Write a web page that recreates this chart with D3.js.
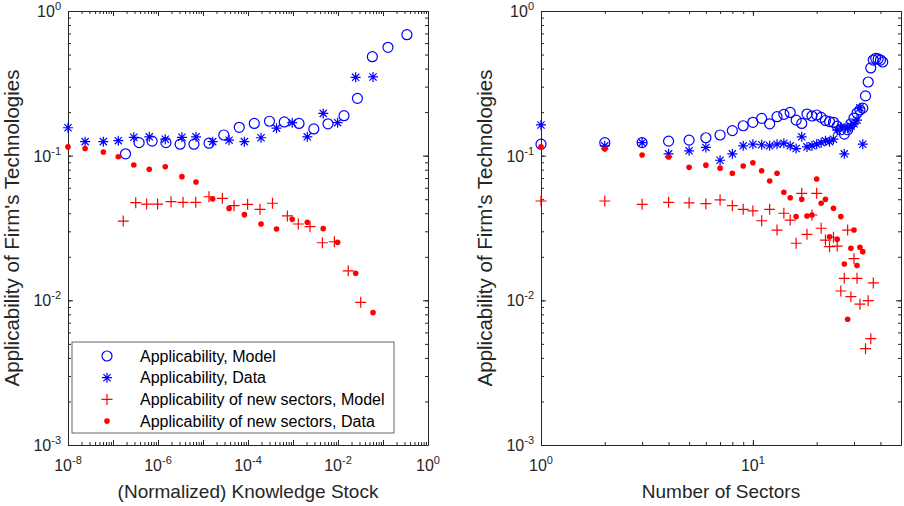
<!DOCTYPE html>
<html>
<head>
<meta charset="utf-8">
<script src="https://cdn.jsdelivr.net/npm/d3@7.9.0/dist/d3.min.js"></script>
<style>
  body { margin: 0; background: #fff; }
  svg { font-family: "Liberation Sans", Arial, sans-serif; }
</style>
</head>
<body>
<svg id="chart" width="904" height="506"></svg>
<script>
// ---- left panel: applicability vs (normalized) knowledge stock ----
const stockApplModelX = [1.9e-7, 3.8e-7, 7.4e-7, 1.5e-6, 3.1e-6, 6.3e-6, 1.36e-5, 2.9e-5, 6.4e-5, 1.38e-4,
  3.0e-4, 6.4e-4, 1.36e-3, 2.9e-3, 6.0e-3, 1.36e-2, 2.7e-2, 5.8e-2, 0.129, 0.34];
const stockApplModelY = [0.103, 0.123, 0.126, 0.123, 0.120, 0.120, 0.122, 0.139, 0.157, 0.167,
  0.173, 0.171, 0.167, 0.153, 0.166, 0.189, 0.249, 0.483, 0.561, 0.686];

const stockDataX = [1.0e-8, 2.4e-8, 6.1e-8, 1.31e-7, 2.9e-7, 6.4e-7, 1.45e-6, 3.4e-6, 7.0e-6, 1.64e-5,
  3.8e-5, 8.3e-5, 1.95e-4, 4.3e-4, 9.6e-4, 2.08e-3, 4.7e-3, 9.8e-3, 2.47e-2, 6.0e-2];
const stockApplDataY = [0.156, 0.125, 0.125, 0.127, 0.134, 0.135, 0.130, 0.134, 0.135, 0.125,
  0.128, 0.125, 0.133, 0.155, 0.169, 0.135, 0.196, 0.169, 0.348, 0.350];
const stockNewDataY = [0.115, 0.112, 0.106, 0.0984, 0.0862, 0.0805, 0.0839, 0.0716, 0.0658, 0.0502,
  0.0432, 0.0391, 0.0337, 0.0311, 0.0363, 0.0346, 0.0313, 0.0252, 0.0154, 0.00822];

const stockNewModelX = [1.69e-7, 3.2e-7, 5.6e-7, 9.8e-7, 1.95e-6, 3.6e-6, 6.9e-6, 1.36e-5, 2.69e-5, 4.9e-5,
  9.8e-5, 1.85e-4, 3.5e-4, 7.5e-4, 1.31e-3, 2.39e-3, 4.5e-3, 8.3e-3, 1.69e-2, 3.2e-2];
const stockNewModelY = [0.0353, 0.0473, 0.0463, 0.0463, 0.0481, 0.0476, 0.0476, 0.0520, 0.0507, 0.0451,
  0.0461, 0.0426, 0.0469, 0.0383, 0.0337, 0.0323, 0.0250, 0.0254, 0.0160, 0.00969];

// ---- right panel: applicability vs number of sectors ----
const sectorApplModelX = [1, 2, 3, 4, 5, 6, 7, 8, 9, 10, 11, 12, 13, 14, 15, 16, 17, 18, 19, 20, 21,
  22, 23, 24, 25, 26, 27, 28, 29, 30, 31, 32, 33, 34, 35, 36, 37, 38, 39, 40, 41];
const sectorApplModelY = [0.120, 0.123, 0.123, 0.126, 0.128, 0.133, 0.139, 0.149, 0.161, 0.170, 0.181,
  0.166, 0.186, 0.193, 0.199, 0.176, 0.167, 0.194, 0.188, 0.191, 0.184, 0.175, 0.172, 0.170, 0.160,
  0.151, 0.141, 0.151, 0.166, 0.182, 0.197, 0.207, 0.213, 0.259, 0.323, 0.404, 0.458, 0.471, 0.466,
  0.458, 0.444];

const sectorDataX = [1, 2, 3, 4, 5, 6, 7, 8, 9, 10, 11, 12, 13, 14, 15, 16, 17, 18, 19, 20, 21, 22,
  23, 24, 25, 26, 27, 28, 29, 30, 31, 32, 33];
const sectorApplDataY = [0.163, 0.117, 0.123, 0.103, 0.108, 0.114, 0.093, 0.103, 0.117, 0.120, 0.119,
  0.117, 0.120, 0.122, 0.117, 0.112, 0.135, 0.115, 0.117, 0.120, 0.123, 0.127, 0.125, 0.130, 0.150,
  0.158, 0.103, 0.155, 0.160, 0.166, 0.176, 0.214, 0.120];
const sectorNewDataY = [0.115, 0.111, 0.101, 0.098, 0.083, 0.086, 0.082, 0.0755, 0.0848, 0.0894, 0.0787,
  0.0668, 0.0755, 0.0558, 0.0512, 0.0379, 0.0499, 0.0383, 0.0389, 0.069, 0.0468, 0.0499, 0.0275,
  0.0433, 0.0264, 0.0379, 0.0178, 0.0074, 0.0229, 0.0306, 0.0174, 0.0233, 0.0217];

const sectorNewModelX = [1, 2, 3, 4, 5, 6, 7, 8, 9, 10, 11, 12, 13, 14, 15, 16, 17, 18, 19, 20, 21, 22,
  23, 24, 25, 26, 27, 28, 29, 30, 31, 32, 34, 35, 36, 37];
const sectorNewModelY = [0.0486, 0.0486, 0.0461, 0.0476, 0.0471, 0.0466, 0.0494, 0.0451, 0.0426, 0.0415,
  0.0355, 0.0426, 0.0306, 0.040, 0.0359, 0.0248, 0.0549, 0.0286, 0.0389, 0.0549, 0.0315, 0.0261,
  0.0235, 0.0273, 0.0237, 0.0116, 0.0142, 0.0306, 0.0106, 0.0194, 0.0142, 0.0094, 0.00463, 0.00994,
  0.00543, 0.0132];

// ticks and labels
const stockTicks = [1e-8, 1e-6, 1e-4, 1e-2, 1];
const sectorTicks = [1, 10];
const applTicks = [1e-3, 1e-2, 1e-1, 1];
const yTitle = "Applicability of Firm's Technologies";
const legendLabels = ['Applicability, Model', 'Applicability, Data',
  'Applicability of new sectors, Model', 'Applicability of new sectors, Data'];

const BLUE = '#0000ff', RED = '#ff0000', AXIS = '#262626';
const svg = d3.select('#chart');

// marker painters
const markers = {
  circle: (g) => g.append('circle').attr('r', 5).attr('fill', 'none').attr('stroke', BLUE).attr('stroke-width', 1.2),
  star: (g) => g.append('path').attr('d', 'M-5,0H5M0,-5V5M-3.6,-3.6L3.6,3.6M-3.6,3.6L3.6,-3.6')
    .attr('fill', 'none').attr('stroke', BLUE).attr('stroke-width', 1.2),
  plus: (g) => g.append('path').attr('d', 'M-5.5,0H5.5M0,-5.5V5.5')
    .attr('fill', 'none').attr('stroke', RED).attr('stroke-width', 1.2),
  dot: (g) => g.append('circle').attr('r', 2.8).attr('fill', RED)
};

function minorTicks(domain) {
  const out = [];
  const lo = Math.floor(Math.log10(domain[0])), hi = Math.ceil(Math.log10(domain[1]));
  for (let e = lo; e <= hi; e++) {
    for (let m = 1; m < 10; m++) {
      const v = m * Math.pow(10, e);
      if (v >= domain[0] && v <= domain[1]) out.push(v);
    }
  }
  return out;
}

function powLabel(sel, v) {
  const e = Math.round(Math.log10(v));
  sel.append('tspan').text('10');
  sel.append('tspan').attr('dy', -7).attr('font-size', 11).text(e);
}

function drawPanel(cfg) {
  const x = d3.scaleLog().domain(cfg.xDomain).range([cfg.left, cfg.right]);
  const y = d3.scaleLog().domain([1e-3, 1]).range([445, 11]);
  const g = svg.append('g');

  const decadesX = minorTicks(cfg.xDomain).filter(v => Math.abs(Math.log10(v) % 1) < 1e-9);
  const minorX = minorTicks(cfg.xDomain);
  const minorY = minorTicks(y.domain());
  const decadesY = applTicks;

  const axes = [
    [d3.axisBottom(x), `translate(0,${y.range()[0]})`, minorX, decadesX],
    [d3.axisTop(x), `translate(0,${y.range()[1]})`, minorX, decadesX],
    [d3.axisLeft(y), `translate(${cfg.left},0)`, minorY, decadesY],
    [d3.axisRight(y), `translate(${cfg.right},0)`, minorY, decadesY]
  ];
  axes.forEach(([ax, tr, minor, major]) => {
    const a = g.append('g').attr('transform', tr);
    a.call(ax.tickValues(minor).tickSizeInner(-3).tickSizeOuter(0).tickFormat(''));
    a.append('g').call(ax.tickValues(major).tickSizeInner(-5).tickSizeOuter(0).tickFormat(''))
      .select('.domain').remove();
    a.selectAll('.domain, line').attr('stroke', AXIS).attr('stroke-width', 1);
  });

  // tick labels
  cfg.xTicks.forEach(v => {
    const t = g.append('text').attr('x', x(v)).attr('y', 471)
      .attr('text-anchor', 'middle').attr('font-size', 16).attr('fill', AXIS);
    powLabel(t, v);
  });
  applTicks.forEach(v => {
    const t = g.append('text').attr('x', cfg.left - 7).attr('y', y(v) + 6)
      .attr('text-anchor', 'end').attr('font-size', 16).attr('fill', AXIS);
    powLabel(t, v);
  });

  // axis titles
  g.append('text').attr('x', (cfg.left + cfg.right) / 2).attr('y', 498)
    .attr('text-anchor', 'middle').attr('font-size', 19).attr('fill', AXIS).text(cfg.xTitle);
  g.append('text').attr('transform', `translate(${cfg.yTitleX},${(y.range()[0] + y.range()[1]) / 2}) rotate(-90)`)
    .attr('text-anchor', 'middle').attr('font-size', 20.5).attr('fill', AXIS).text(yTitle);

  // series
  cfg.series.forEach(s => {
    g.append('g').selectAll('g')
      .data(d3.zip(s.x, s.y))
      .join('g')
      .attr('transform', d => `translate(${x(d[0])},${y(d[1])})`)
      .each(function () { markers[s.marker](d3.select(this)); });
  });
  return g;
}

const left = drawPanel({
  left: 68, right: 428, xDomain: [1e-8, 1], xTicks: stockTicks,
  xTitle: '(Normalized) Knowledge Stock', yTitleX: 19,
  series: [
    { x: stockApplModelX, y: stockApplModelY, marker: 'circle' },
    { x: stockDataX, y: stockApplDataY, marker: 'star' },
    { x: stockNewModelX, y: stockNewModelY, marker: 'plus' },
    { x: stockDataX, y: stockNewDataY, marker: 'dot' }
  ]
});

drawPanel({
  left: 541, right: 901, xDomain: [1, 50], xTicks: sectorTicks,
  xTitle: 'Number of Sectors', yTitleX: 492,
  series: [
    { x: sectorApplModelX, y: sectorApplModelY, marker: 'circle' },
    { x: sectorDataX, y: sectorApplDataY, marker: 'star' },
    { x: sectorNewModelX, y: sectorNewModelY, marker: 'plus' },
    { x: sectorDataX, y: sectorNewDataY, marker: 'dot' }
  ]
});

// legend (left panel)
const leg = left.append('g').attr('transform', 'translate(72,342)');
leg.append('rect').attr('width', 322).attr('height', 91)
  .attr('fill', '#fff').attr('stroke', '#404040').attr('stroke-width', 0.8);
['circle', 'star', 'plus', 'dot'].forEach((m, i) => {
  const row = leg.append('g').attr('transform', `translate(0,${14 + i * 21.7})`);
  markers[m](row.append('g').attr('transform', 'translate(35,0)'));
  row.append('text').attr('x', 68).attr('y', 5.5).attr('font-size', 16).attr('fill', '#000')
    .text(legendLabels[i]);
});
</script>
</body>
</html>
